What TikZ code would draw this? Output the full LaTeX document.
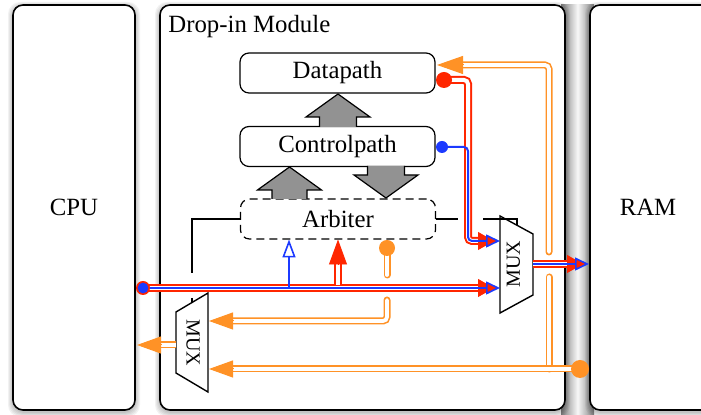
\documentclass[tikz,border=0pt]{standalone}
\usepackage{fontspec}
\setmainfont{Liberation Serif}
\usetikzlibrary{arrows.meta,calc}
\definecolor{cred}{RGB}{255,38,0}
\definecolor{cblue}{RGB}{28,58,255}
\definecolor{corange}{RGB}{255,146,38}
\definecolor{cgray}{RGB}{146,146,146}
\begin{document}
\begin{tikzpicture}[x=0.5pt,y=-0.5pt,
  font=\fontsize{12.4}{14}\selectfont,
  bigbox/.style={draw=black, line width=0.8pt, rounded corners=5pt, fill=white, inner sep=0pt, outer sep=0pt, minimum height=202.5pt},
  unitbox/.style={draw=black, line width=0.6pt, rounded corners=4.5pt, fill=white, minimum width=97.5pt, minimum height=20pt, inner sep=0pt, outer sep=0pt},
  dashbox/.style={unitbox, dash pattern=on 4pt off 2.5pt},
  blockarrow/.style={fill=cgray, draw=black, line width=0.6pt, line join=miter},
  muxshape/.style={fill=white, draw=black, line width=0.7pt, line join=miter},
  muxtext/.style={font=\fontsize{10}{12}\selectfont, inner sep=0pt},
  sel/.style={draw=black, line width=0.6pt},
  oline/.style={draw=corange, line width=0.8pt, double=white, double distance=1.9pt},
  rline/.style={draw=cred, line width=1pt, double=white, double distance=2pt},
  bline/.style={draw=cblue, line width=1pt},
  ohead/.style={corange, line width=0.5pt, -{Triangle[length=12pt,width=8.5pt]}},
  obig/.style={corange, line width=0.5pt, -{Triangle[length=13pt,width=9pt]}},
  rhead/.style={cred, line width=0.4pt, -{Triangle[length=8pt,width=9pt]}, shorten >=3pt},
  rbig/.style={cred, line width=0.4pt, -{Triangle[length=12.5pt,width=9pt]}},
  bhead/.style={cblue, line width=0.8pt, -{Triangle[length=7pt,width=6.5pt,fill=cred]}},
  bopen/.style={cblue, line width=0.8pt, -{Triangle[open,length=9pt,width=6.5pt]}}
]
\useasboundingbox (0,0) rectangle (701,415);
\clip (0,0) rectangle (701,415);

% gray bus band between module and RAM
\shade[left color=black!50, right color=black!50, middle color=black!3] (561,5) rectangle (594,415);

% soft shadows
\foreach \i in {1,...,5}{
  \fill[black, opacity=0.05, rounded corners=6pt] ({13-\i},{7-\i}) rectangle ({135+\i},{412+\i});
  \fill[black, opacity=0.05, rounded corners=6pt] ({160-\i},{7-\i}) rectangle ({565+\i},{412+\i});
  \fill[black, opacity=0.05, rounded corners=6pt] ({590-\i},{7-\i}) rectangle ({740+\i},{412+\i});
}

% main boxes
\node[bigbox, minimum width=61pt] (cpu) at (74,207.5) {CPU};
\node[bigbox, minimum width=202.5pt] (mod) at (362.5,207.5) {};
\node[bigbox, minimum width=75pt] (ram) at (665,207.5) {};
\node (ramlabel) at (648,207.5) {RAM};
\node[anchor=base west, inner sep=0pt] (modlabel) at (168,33) {Drop-in Module};

% units
\node[unitbox] (dp) at (337.5,73) {Datapath};
\node[unitbox] (cp) at (337.5,146.5) {Controlpath};
\node[dashbox] (arb) at (338,219) {Arbiter};

% block arrows
\draw[blockarrow] (319.5,127) -- (319.5,117) -- (306,117) -- (338,94) -- (370,117) -- (356.5,117) -- (356.5,127);
\draw[blockarrow] (272,199) -- (272,190) -- (257.5,190) -- (289.5,167) -- (321.5,190) -- (307,190) -- (307,199);
\draw[blockarrow] (367.5,166) -- (367.5,175) -- (354,175) -- (386,198) -- (418,175) -- (404.5,175) -- (404.5,166);

% multiplexers
\coordinate (rTL) at (500,216);
\coordinate (rTR) at (533,234);
\coordinate (rBR) at (533,295);
\coordinate (rBL) at (500,313);
\draw[muxshape] (rTL) -- (rTR) -- (rBR) -- (rBL) -- cycle;
\node[muxtext, rotate=90] (muxr) at (513.5,264) {MUX};
\coordinate (lTR) at (208,293);
\coordinate (lBR) at (208,392);
\coordinate (lBL) at (176,373);
\coordinate (lTL) at (176,312);
\draw[muxshape] (lTR) -- (lBR) -- (lBL) -- (lTL) -- cycle;
\node[muxtext, rotate=-90] (muxl) at (193,343) {MUX};

% connector coordinates
\coordinate (cpudot) at (143,288);
\coordinate (busend) at (500,288);
\coordinate (tapb) at (289,288);
\coordinate (arbb) at (289,239.5);
\coordinate (tapr) at (338,285);
\coordinate (arbr) at (338,239.5);
\coordinate (arbdot) at (387,248);
\coordinate (arbo1) at (387,275);
\coordinate (arbo2) at (387,300);
\coordinate (arbo3) at (387,321);
\coordinate (lmuxin1) at (209,321);
\coordinate (ramdot) at (580,369);
\coordinate (lmuxin2) at (209,369);
\coordinate (oj) at (549,369);
\coordinate (ogap1) at (549,277);
\coordinate (ogap2) at (549,252);
\coordinate (otop) at (549,65);
\coordinate (dpin) at (437,65);
\coordinate (lmuxout) at (176,345);
\coordinate (cpuin) at (137,345);
\coordinate (dpdot) at (444,80);
\coordinate (cpdot) at (442,147);
\coordinate (rtop) at (468,80);
\coordinate (btop) at (468,147);
\coordinate (rbot) at (468,241);
\coordinate (rmuxin) at (500,241);
\coordinate (rmuxout) at (533,264);
\coordinate (ramin) at (589,264);
\coordinate (sl1) at (192,219);
\coordinate (sl2) at (192,273);
\coordinate (sl3) at (192,298);
\coordinate (sl4) at (192,302.5);
\coordinate (sr1) at (458,219);
\coordinate (sr2) at (483,219);
\coordinate (sr3) at (517,219);
\coordinate (sr4) at (517,225);

% select lines
\draw[sel] (arb.west) -- (sl1) -- (sl2);
\draw[sel] (sl3) -- (sl4);
\draw[sel] (arb.east) -- (sr1);
\draw[sel] (sr2) -- (sr3) -- (sr4);

% orange paths
\draw[oline, line cap=round] (arbdot) -- (arbo1);
\fill[corange] (arbdot) circle (4pt);
\draw[oline, line cap=round, rounded corners=2pt, shorten >=10pt] (arbo2) -- (arbo3) -- (lmuxin1);
\draw[ohead] ($(lmuxin1)+(24,0)$) -- (lmuxin1);
\draw[oline, line cap=round] (oj) -- (ogap1);
\draw[oline, line cap=round, rounded corners=2pt, shorten >=11pt] (ogap2) -- (otop) -- (dpin);
\draw[obig] ($(dpin)+(26,0)$) -- (dpin);
\draw[oline, shorten >=10pt] (ramdot) -- (lmuxin2);
\draw[ohead] ($(lmuxin2)+(24,0)$) -- (lmuxin2);
\fill[corange] (ramdot) circle (4.5pt);
\draw[oline, shorten >=10pt] (lmuxout) -- (cpuin);
\draw[ohead] ($(cpuin)+(24,0)$) -- (cpuin);

% main bus CPU -> MUX
\draw[rline, shorten >=10pt] (cpudot) -- (busend);
\draw[rhead] ($(busend)+(-22,0)$) -- (busend);
\draw[bline, shorten >=6pt] (cpudot) -- (busend);
\draw[bhead] ($(busend)+(-14,0)$) -- (busend);
\fill[cred] (cpudot) circle (3.5pt);
\fill[cblue] (cpudot) circle (2.7pt);

% taps to arbiter
\draw[bopen] (tapb) -- (arbb);
\draw[rline, shorten >=10pt] (tapr) -- (arbr);
\draw[rbig] ($(arbr)+(0,25)$) -- (arbr);

% datapath / controlpath to MUX
\draw[rline, rounded corners=2pt, shorten >=10pt] (dpdot) -- (rtop) -- (rbot) -- (rmuxin);
\draw[rhead] ($(rmuxin)+(-22,0)$) -- (rmuxin);
\draw[bline, rounded corners=2pt, shorten >=6pt] (cpdot) -- (btop) -- (rbot) -- (rmuxin);
\draw[bhead] ($(rmuxin)+(-14,0)$) -- (rmuxin);
\fill[cred] (dpdot) circle (4pt);
\fill[cblue] (cpdot) circle (3pt);

% MUX -> RAM
\draw[rline, shorten >=10pt] (rmuxout) -- (ramin);
\draw[rhead] ($(ramin)+(-22,0)$) -- (ramin);
\draw[bline, shorten >=6pt] (rmuxout) -- (ramin);
\draw[bhead] ($(ramin)+(-14,0)$) -- (ramin);
\end{tikzpicture}
\end{document}
